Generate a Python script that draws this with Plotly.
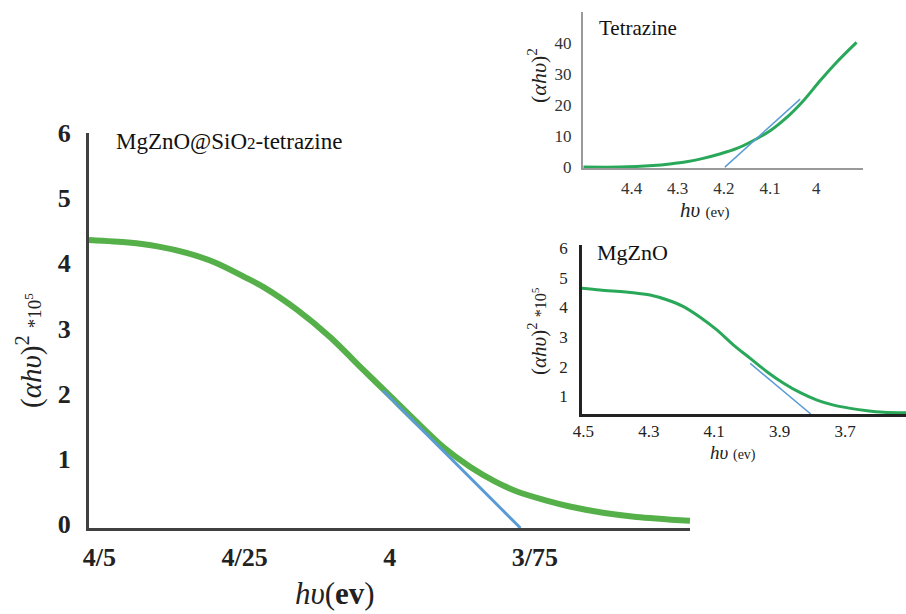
import plotly.graph_objects as go

# ---- Main chart: MgZnO@SiO2-tetrazine ----
main_x = [4.518, 4.45, 4.40, 4.35, 4.30, 4.25, 4.218, 4.160, 4.103, 4.046, 4.00, 3.960, 3.909, 3.862, 3.82, 3.781, 3.73, 3.69, 3.63, 3.575, 3.483]
main_y = [4.36, 4.32, 4.26, 4.16, 4.01, 3.79, 3.64, 3.29, 2.87, 2.37, 1.97, 1.62, 1.19, 0.88, 0.66, 0.50, 0.36, 0.27, 0.17, 0.11, 0.05]
main_tan_x = [4.012, 3.775]
main_tan_y = [2.05, -0.06]
main_xticks = [4.5, 4.25, 4.0, 3.75]
main_xticktext = ["4/5", "4/25", "4", "3/75"]
main_yticks = [0, 1, 2, 3, 4, 5, 6]

# ---- Inset: Tetrazine ----
tet_x = [4.504, 4.425, 4.353, 4.317, 4.281, 4.245, 4.209, 4.172, 4.137, 4.10, 4.064, 4.028, 3.992, 3.956, 3.913]
tet_y = [0, 0, 0.5, 1.0, 1.7, 2.8, 4.2, 6.0, 8.5, 11.7, 16.0, 21.4, 27.8, 33.8, 40.2]
tet_tan_x = [4.198, 4.035]
tet_tan_y = [0, 21.9]
tet_xticks = [4.4, 4.3, 4.2, 4.1, 4.0]
tet_xticktext = ["4.4", "4.3", "4.2", "4.1", "4"]
tet_yticks = [0, 10, 20, 30, 40]

# ---- Inset: MgZnO ----
mg_x = [4.505, 4.449, 4.347, 4.296, 4.245, 4.194, 4.143, 4.092, 4.041, 3.99, 3.939, 3.888, 3.837, 3.786, 3.735, 3.684, 3.633, 3.582, 3.513]
mg_y = [4.65, 4.59, 4.50, 4.42, 4.26, 4.03, 3.67, 3.24, 2.73, 2.28, 1.83, 1.44, 1.12, 0.87, 0.70, 0.59, 0.51, 0.46, 0.44]
mg_tan_x = [3.99, 3.805]
mg_tan_y = [2.11, 0.40]
mg_xticks = [4.5, 4.3, 4.1, 3.9, 3.7]
mg_xticktext = ["4.5", "4.3", "4.1", "3.9", "3.7"]
mg_yticks = [1, 2, 3, 4, 5, 6]

W, H = 906, 614
GREEN_MAIN = "#56b04a"
GREEN_INSET = "#2aa85a"
BLUE = "#5b9bd5"
AXIS = "#404040"
SERIF = "Liberation Serif"

fig = go.Figure()
fig.add_trace(go.Scatter(x=main_x, y=main_y, mode="lines", line=dict(color=GREEN_MAIN, width=6, shape="spline", smoothing=0.8),
                         xaxis="x", yaxis="y", showlegend=False))
fig.add_trace(go.Scatter(x=main_tan_x, y=main_tan_y, mode="lines", line=dict(color=BLUE, width=3),
                         xaxis="x", yaxis="y", showlegend=False))
fig.add_trace(go.Scatter(x=tet_x, y=tet_y, mode="lines", line=dict(color=GREEN_INSET, width=3, shape="spline", smoothing=0.8),
                         xaxis="x2", yaxis="y2", showlegend=False))
fig.add_trace(go.Scatter(x=tet_tan_x, y=tet_tan_y, mode="lines", line=dict(color=BLUE, width=1.5),
                         xaxis="x2", yaxis="y2", showlegend=False))
fig.add_trace(go.Scatter(x=mg_x, y=mg_y, mode="lines", line=dict(color=GREEN_INSET, width=3, shape="spline", smoothing=0.8),
                         xaxis="x3", yaxis="y3", showlegend=False))
fig.add_trace(go.Scatter(x=mg_tan_x, y=mg_tan_y, mode="lines", line=dict(color=BLUE, width=1.5),
                         xaxis="x3", yaxis="y3", showlegend=False))

def px(v):
    return v / W

def py(v):
    return 1 - v / H

big_tick = dict(family=SERIF, size=26, color="#222222", weight="bold")
tet_tick = dict(family=SERIF, size=17, color="#333333")
mg_tick = dict(family=SERIF, size=17, color="#222222")

common = dict(showgrid=False, zeroline=False, showline=True, ticks="", automargin=False)

fig.update_layout(
    width=W, height=H,
    margin=dict(l=0, r=0, t=0, b=0),
    paper_bgcolor="white", plot_bgcolor="rgba(0,0,0,0)",
    xaxis=dict(domain=[px(89), px(690)], range=[4.518, 3.483], tickvals=main_xticks, ticktext=main_xticktext,
               linecolor=AXIS, linewidth=3, tickfont=big_tick, ticklabelstandoff=4, anchor="y", **common),
    yaxis=dict(domain=[py(528), py(133)], range=[-0.06, 6.0], tickvals=main_yticks,
               linecolor=AXIS, linewidth=3, tickfont=big_tick, ticklabelstandoff=10, anchor="x", **common),
    xaxis2=dict(domain=[px(583), px(863)], range=[4.505, 3.899], tickvals=tet_xticks, ticktext=tet_xticktext,
                linecolor="#9a9a9a", linewidth=2, tickfont=tet_tick, ticklabelstandoff=4, anchor="y2", **common),
    yaxis2=dict(domain=[py(168), py(12)], range=[-0.3, 50], tickvals=tet_yticks,
                linecolor="#9a9a9a", linewidth=2, tickfont=tet_tick, ticklabelstandoff=6, anchor="x2", **common),
    xaxis3=dict(domain=[px(582), 1.0], range=[4.504, 3.514], tickvals=mg_xticks, ticktext=mg_xticktext,
                linecolor="#222222", linewidth=2.5, tickfont=mg_tick, ticklabelstandoff=0, anchor="y3", **common),
    yaxis3=dict(domain=[py(414), py(245)], range=[0.40, 6.11], tickvals=mg_yticks,
                linecolor="#222222", linewidth=2.5, tickfont=mg_tick, ticklabelstandoff=8, anchor="x3", **common),
)

ann = []
# main texts
ann.append(dict(x=px(114), y=py(141), xref="paper", yref="paper", xanchor="left", yanchor="middle",
                text="MgZnO@SiO<span style='font-size:17px'>2</span>-tetrazine", showarrow=False,
                font=dict(family=SERIF, size=23, color="#111111")))
ann.append(dict(x=px(29), y=py(350), xref="paper", yref="paper", xanchor="center", yanchor="middle",
                textangle=-90, showarrow=False,
                text="(<i>αhυ</i>)<sup>2</sup> <span style='font-size:19px'>*10<sup>5</sup></span>",
                font=dict(family=SERIF, size=29, color="#222222")))
ann.append(dict(x=px(335), y=py(593), xref="paper", yref="paper", xanchor="center", yanchor="middle",
                text="<i>hυ</i>(<b>ev</b>)", showarrow=False,
                font=dict(family=SERIF, size=31, color="#222222")))
# tetrazine inset texts
ann.append(dict(x=px(597), y=py(28), xref="paper", yref="paper", xanchor="left", yanchor="middle",
                text="Tetrazine", showarrow=False, font=dict(family=SERIF, size=21, color="#111111")))
ann.append(dict(x=px(537), y=py(76), xref="paper", yref="paper", xanchor="center", yanchor="middle",
                textangle=-90, showarrow=False, text="(<i>αhυ</i>)<sup>2</sup>",
                font=dict(family=SERIF, size=22, color="#222222")))
ann.append(dict(x=px(705), y=py(210), xref="paper", yref="paper", xanchor="center", yanchor="middle",
                text="<i>hυ</i> <span style='font-size:15px'>(ev)</span>", showarrow=False,
                font=dict(family=SERIF, size=21, color="#222222")))
# MgZnO inset texts
ann.append(dict(x=px(595), y=py(253), xref="paper", yref="paper", xanchor="left", yanchor="middle",
                text="MgZnO", showarrow=False, font=dict(family=SERIF, size=22, color="#111111")))
ann.append(dict(x=px(537), y=py(331), xref="paper", yref="paper", xanchor="center", yanchor="middle",
                textangle=-90, showarrow=False,
                text="(<i>αhυ</i>)<sup>2</sup> <span style='font-size:16px'>*10<sup>5</sup></span>",
                font=dict(family=SERIF, size=21, color="#222222")))
ann.append(dict(x=px(733), y=py(452), xref="paper", yref="paper", xanchor="center", yanchor="middle",
                text="<i>hυ</i> <span style='font-size:14px'>(ev)</span>", showarrow=False,
                font=dict(family=SERIF, size=19, color="#222222")))
fig.update_layout(annotations=ann)

fig.write_html("out.html", config={"displayModeBar": False},
               post_script="document.body.style.margin='0px';document.body.style.padding='0px';")
